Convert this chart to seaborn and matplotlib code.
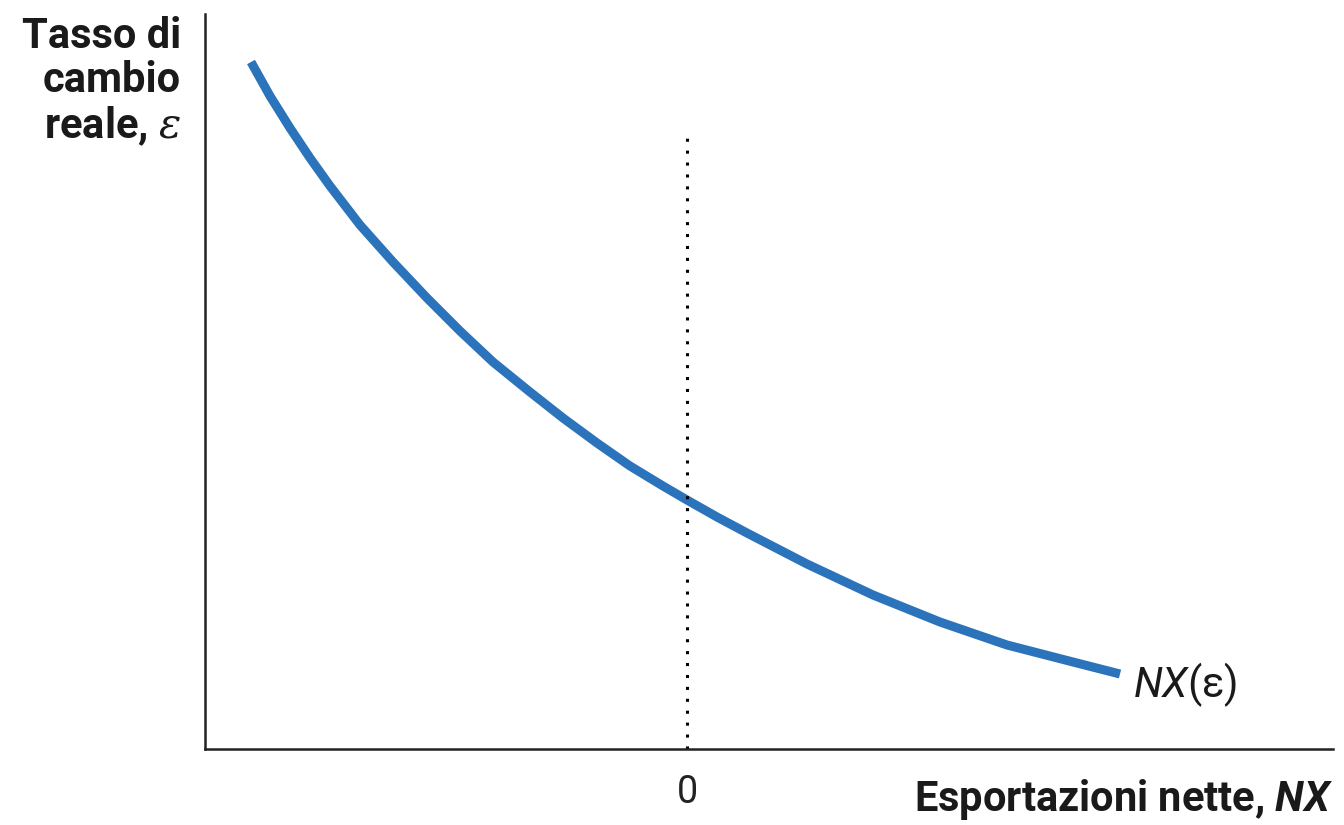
import matplotlib
matplotlib.use("Agg")
import matplotlib.pyplot as plt
import seaborn as sns
import pandas as pd

# Data (arbitrary units; 0 on x is the zero of net exports)
nx = [-4.36, -4.17, -3.97, -3.77, -3.57, -3.27, -2.94, -2.60, -2.27, -1.94, -1.57, -1.24,
      -0.90, -0.57, -0.24, 0.00, 0.30, 0.60, 1.20, 1.86, 2.53, 3.20, 3.86, 4.33]
eps = [6.87, 6.53, 6.21, 5.91, 5.63, 5.24, 4.87, 4.51, 4.18, 3.87, 3.57, 3.31,
       3.06, 2.83, 2.63, 2.49, 2.32, 2.16, 1.85, 1.54, 1.27, 1.04, 0.87, 0.75]
zero_line_top = 6.14
x_tick_labels = ["0"]

sns.set_theme(style="white")
plt.rcParams['font.family'] = ['Roboto', 'DejaVu Sans']
plt.rcParams['mathtext.fontset'] = 'custom'
plt.rcParams['mathtext.rm'] = 'Roboto'
plt.rcParams['mathtext.it'] = 'Roboto:italic'
plt.rcParams['mathtext.bf'] = 'Roboto:bold'
plt.rcParams['mathtext.bfit'] = 'Roboto:italic:bold'

fig = plt.figure(figsize=(13.44, 8.25), dpi=100)
ax = fig.add_axes([205/1344, 76/825, 1128/1344, 735/825])

df = pd.DataFrame({"NX": nx, "eps": eps})
sns.lineplot(data=df, x="NX", y="eps", ax=ax, color="#2b74bb", linewidth=6.5,
             sort=False, estimator=None)
for ln in ax.lines:
    ln.set_solid_capstyle("butt")
    ln.set_solid_joinstyle("round")

ax.plot([0, 0], [0, zero_line_top], color="black", linewidth=2.2,
        linestyle=(0, (1, 2.9)), dash_capstyle="butt")

ax.set_xlim(-4.82, 6.46)
ax.set_ylim(0, 7.35)
ax.set_xticks([0])
ax.set_xticklabels(x_tick_labels)
ax.set_yticks([])
ax.tick_params(axis="x", length=0, pad=18, labelsize=27, labelcolor="#222222")
ax.set_xlabel("")
ax.set_ylabel("")

for s in ["top", "right"]:
    ax.spines[s].set_visible(False)
for s in ["left", "bottom"]:
    ax.spines[s].set_color("#222222")
    ax.spines[s].set_linewidth(1.8)

# Axis titles
fig.text(1333/1344, 1 - 800/825, "Esportazioni nette, $\\mathbfit{NX}$", ha="right", va="center",
         fontsize=30, fontweight="bold", color="#1a1a1a")
fig.text(181/1344, 1 - 82/825, "Tasso di\ncambio\nreale, $\\varepsilon$", ha="right", va="center",
         fontsize=30, fontweight="bold", color="#1a1a1a", linespacing=1.1,
         multialignment="right", math_fontfamily="dejavuserif")

# Curve label
ax.text(4.46, (749 - 685) / 100, "$\\mathit{NX}$(ε)", ha="left", va="center", fontsize=30,
        color="#1a1a1a")

fig.savefig("out.png", dpi=100)
